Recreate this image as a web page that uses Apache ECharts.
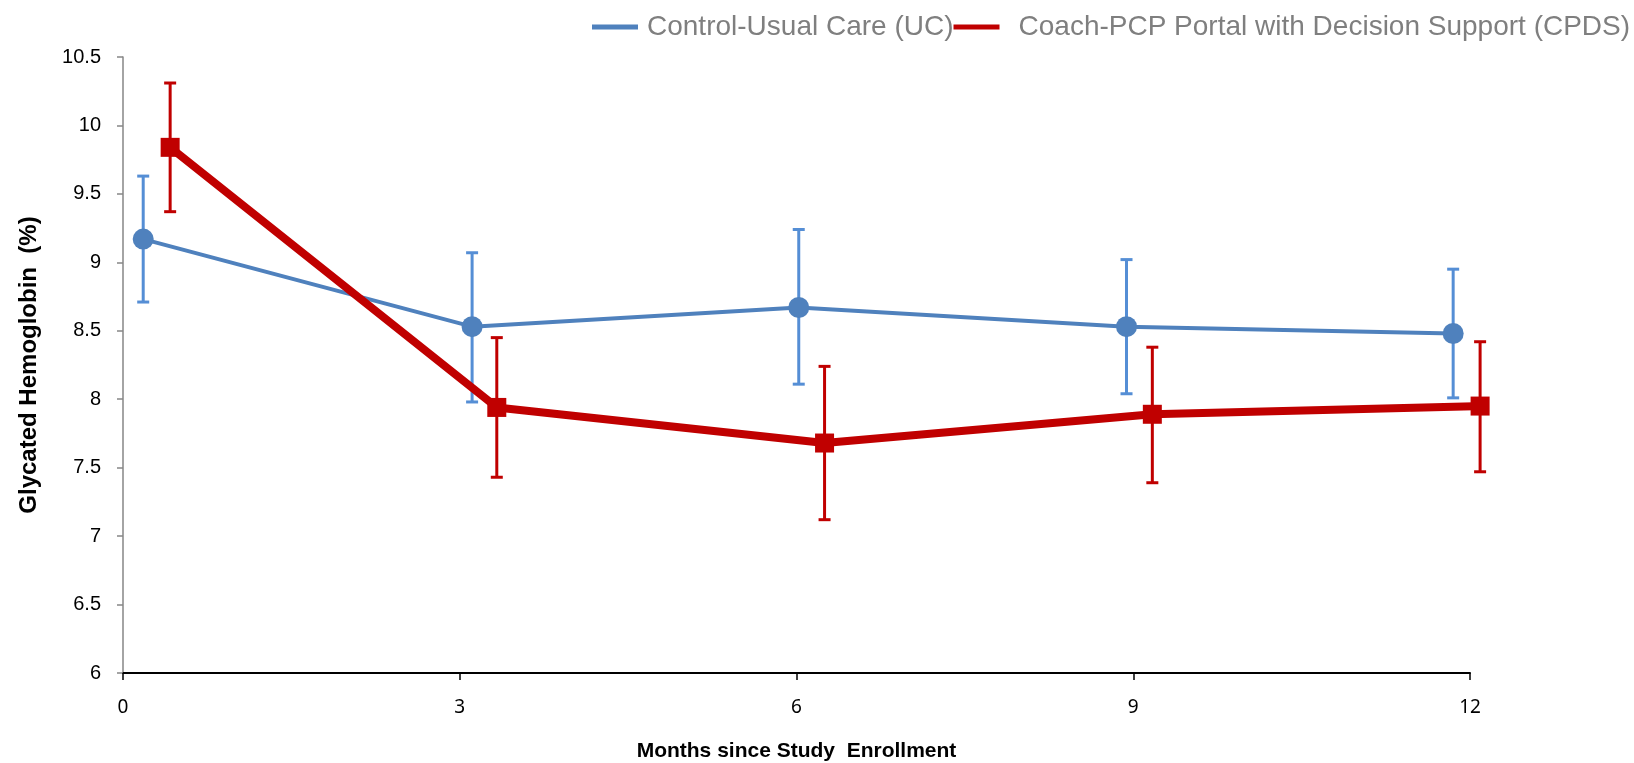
<!DOCTYPE html>
<html>
<head>
<meta charset="utf-8">
<script src="https://cdn.jsdelivr.net/npm/echarts@6/dist/echarts.min.js"></script>
<style>
  html, body { margin: 0; padding: 0; background: #fff; }
  #chart { width: 1634px; height: 763px; }
</style>
</head>
<body>
<div id="chart"></div>
<script>
// months (slightly offset per group, as in the figure)
const blueMonths = [0.18, 3.11, 6.02, 8.94, 11.85];
const blueMean = [9.17, 8.53, 8.67, 8.53, 8.48];
const blueLow = [8.71, 7.98, 8.11, 8.04, 8.01];
const blueHigh = [9.63, 9.07, 9.24, 9.02, 8.95];

const redMonths = [0.42, 3.33, 6.25, 9.17, 12.09];
const redMean = [9.84, 7.94, 7.68, 7.89, 7.95];
const redLow = [9.37, 7.43, 7.12, 7.39, 7.47];
const redHigh = [10.31, 8.45, 8.24, 8.38, 8.42];

const xTicks = [0, 3, 6, 9, 12];
const seriesNames = ['Control-Usual Care (UC)', 'Coach-PCP Portal with Decision Support (CPDS)'];

const arial = "'Liberation Sans', Arial, sans-serif";

function errorBars(color) {
	return function (params, api) {
		let x = api.value(0);
		let pLo = api.coord([x, api.value(1)]);
		let pHi = api.coord([x, api.value(2)]);
		let hw = 6;
		let style = { stroke: color, lineWidth: 3 };
		return {
			type: 'group',
			children: [
				{ type: 'line', shape: { x1: pLo[0], y1: pLo[1], x2: pHi[0], y2: pHi[1] }, style: style },
				{ type: 'line', shape: { x1: pHi[0] - hw, y1: pHi[1], x2: pHi[0] + hw, y2: pHi[1] }, style: style },
				{ type: 'line', shape: { x1: pLo[0] - hw, y1: pLo[1], x2: pLo[0] + hw, y2: pLo[1] }, style: style }
			]
		};
	};
}

let myChart = echarts.init(document.getElementById('chart'));

let option = {
	animation: false,
	backgroundColor: '#fff',
	legend: {
		left: 592,
		top: 13,
		width: 1100,
		padding: 0,
		itemWidth: 46,
		itemHeight: 5,
		itemGap: 0,
		icon: 'rect',
		data: [
			{ name: seriesNames[0], textStyle: { padding: [0, 0, 0, 4] } },
			{ name: seriesNames[1], textStyle: { padding: [0, 0, 0, 14] } }
		],
		textStyle: {
			color: '#7f7f7f',
			fontSize: 28,
			fontFamily: arial
		}
	},
	grid: {
		left: 123,
		right: 164,
		top: 57,
		bottom: 90,
		outerBoundsMode: 'none'
	},
	xAxis: {
		type: 'value',
		min: 0,
		max: 12,
		interval: 3,
		name: 'Months since Study  Enrollment',
		nameLocation: 'middle',
		nameGap: 68,
		nameTextStyle: {
			color: '#000',
			fontSize: 21,
			fontWeight: 'bold',
			fontFamily: arial
		},
		axisLine: {
			lineStyle: { color: '#000', width: 2 }
		},
		axisTick: {
			show: true,
			length: 7,
			lineStyle: { color: '#000', width: 1.5 }
		},
		axisLabel: {
			color: '#000',
			fontSize: 19,
			fontFamily: "'Noto Sans', sans-serif",
			margin: 25,
			customValues: xTicks
		},
		splitLine: { show: false }
	},
	yAxis: {
		type: 'value',
		min: 6,
		max: 10.5,
		interval: 0.5,
		name: 'Glycated Hemoglobin  (%)',
		nameLocation: 'middle',
		nameGap: 82,
		nameTextStyle: {
			color: '#000',
			fontSize: 24,
			fontWeight: 'bold',
			fontFamily: arial
		},
		axisLine: {
			show: true,
			lineStyle: { color: '#868686', width: 1.5 }
		},
		axisTick: {
			show: true,
			length: 6,
			lineStyle: { color: '#868686', width: 1.5 }
		},
		axisLabel: {
			color: '#000',
			fontSize: 20,
			fontFamily: arial,
			margin: 22
		},
		splitLine: { show: false }
	},
	series: [
		{
			name: seriesNames[0] + ' err',
			type: 'custom',
			renderItem: errorBars('#558ed5'),
			clip: false,
			data: blueMonths.map((m, i) => [m, blueLow[i], blueHigh[i]]),
			z: 2
		},
		{
			name: seriesNames[0],
			type: 'line',
			data: blueMonths.map((m, i) => [m, blueMean[i]]),
			symbol: 'circle',
			symbolSize: 21,
			clip: false,
			lineStyle: { color: '#4f81bd', width: 4 },
			itemStyle: { color: '#4f81bd', borderWidth: 0 },
			z: 3
		},
		{
			name: seriesNames[1] + ' err',
			type: 'custom',
			renderItem: errorBars('#c00000'),
			clip: false,
			data: redMonths.map((m, i) => [m, redLow[i], redHigh[i]]),
			z: 4
		},
		{
			name: seriesNames[1],
			type: 'line',
			data: redMonths.map((m, i) => [m, redMean[i]]),
			symbol: 'rect',
			symbolSize: 19,
			clip: false,
			lineStyle: { color: '#c00000', width: 8 },
			itemStyle: { color: '#c00000', borderWidth: 0 },
			z: 5
		}
	]
};

myChart.setOption(option);
</script>
</body>
</html>
